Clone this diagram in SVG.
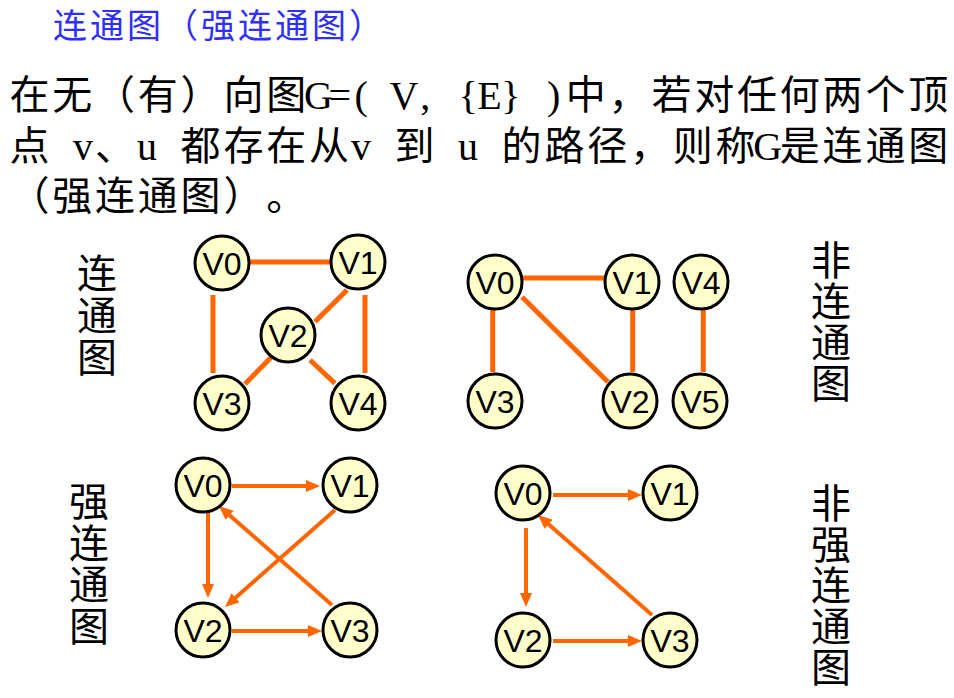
<svg xmlns="http://www.w3.org/2000/svg" width="954" height="698" viewBox="0 0 954 698">
<style>
.title{font-family:"Noto Sans CJK SC",sans-serif;font-size:34px;fill:#2f2fff;letter-spacing:3px}
.body{font-family:"Liberation Serif","Noto Sans CJK SC",sans-serif;font-size:40px;fill:#000}
.lat{font-family:"Liberation Serif","Noto Sans CJK SC",serif;font-size:40px}
.side{font-family:"Noto Sans CJK SC",sans-serif;font-size:40px;fill:#000;writing-mode:vertical-rl;text-orientation:upright}
.node circle{fill:#FFFFCC;stroke:#000;stroke-width:3}
.node text{font-family:"Liberation Sans",Arial,sans-serif;font-size:32px;fill:#000;text-anchor:middle}
.e5{stroke:#FF6600;stroke-width:5;fill:none}
.e4{stroke:#FF6600;stroke-width:4;fill:none;marker-end:url(#arr)}
</style>
<defs>
<marker id="arr" markerUnits="userSpaceOnUse" markerWidth="14" markerHeight="12" refX="6" refY="6" orient="auto">
<path d="M0,0 L14,6 L0,12 z" fill="#FF6600"/>
</marker>
</defs>
<rect width="954" height="698" fill="#fff"/>
<text class="title" x="53" y="38">连通图（强连通图）</text>
<text class="body" y="109"><tspan x="9.4 52.2 95 137.8 180.6 223.4 266.2">在无（有）向图</tspan><tspan class="lat" x="303.9 328.4 354.4 375 389.5 420.3 440 458.5 477.3 501.3 520 547">G=( V, {E} )</tspan><tspan x="565.8 608.6 651.4 694.2 737 779.8 822.6 865.4 908.2">中，若对任何两个顶</tspan></text>
<text class="body" y="160"><tspan x="9.4">点</tspan><tspan class="lat" x="50.8 72.9"> v</tspan><tspan x="95">、</tspan><tspan class="lat" x="137.1 157.8">u </tspan><tspan x="180.6 223.4 266.2 309">都存在从</tspan><tspan class="lat" x="351.1 371.8">v </tspan><tspan x="394.6">到</tspan><tspan class="lat" x="436 458.1 478.8"> u </tspan><tspan x="501.6 544.4 587.2 630 672.8 715.6">的路径，则称</tspan><tspan class="lat" x="753.3">G</tspan><tspan x="779.8 822.6 865.4 908.2">是连通图</tspan></text>
<text class="body" y="210" x="9.4 52.2 95 137.8 180.6 223.4 266.2">（强连通图）。</text>
<text class="side" x="97" y="253" letter-spacing="2">连通图</text>
<text class="side" x="831" y="240" letter-spacing="1">非连通图</text>
<text class="side" x="89" y="481" letter-spacing="1.5">强连通图</text>
<text class="side" x="831" y="483" letter-spacing="1">非强连通图</text>
<g id="connectors">
<line class="e5" x1="249" y1="262" x2="331" y2="262"/>
<line class="e5" x1="213" y1="295" x2="213" y2="373"/>
<line class="e5" x1="365" y1="295" x2="365" y2="373"/>
<line class="e5" x1="347" y1="290" x2="315" y2="321.7"/>
<line class="e5" x1="271.7" y1="356.7" x2="245" y2="384"/>
<line class="e5" x1="310" y1="360" x2="335" y2="383.3"/>
<line class="e5" x1="523" y1="278" x2="605" y2="278"/>
<line class="e5" x1="492.7" y1="310" x2="492.7" y2="372"/>
<line class="e5" x1="522" y1="297" x2="608" y2="382"/>
<line class="e5" x1="632.7" y1="310" x2="632.7" y2="372"/>
<line class="e5" x1="703.3" y1="310" x2="703.3" y2="372"/>
<line class="e4" x1="232" y1="486" x2="312" y2="486"/>
<line class="e4" x1="208" y1="505" x2="208" y2="590"/>
<line class="e4" x1="335" y1="510" x2="231" y2="601.7"/>
<line class="e4" x1="332" y1="605" x2="225" y2="511.3"/>
<line class="e4" x1="232" y1="631" x2="314" y2="631"/>
<line class="e4" x1="553" y1="495" x2="634" y2="495"/>
<line class="e4" x1="526" y1="528" x2="526" y2="599"/>
<line class="e4" x1="652" y1="615" x2="544" y2="520.3"/>
<line class="e4" x1="553" y1="641" x2="634" y2="641"/>
</g>
<g id="g1-v0" class="node"><circle cx="222" cy="263" r="27"/><text x="222" y="275">V0</text></g>
<g id="g1-v1" class="node"><circle cx="358" cy="262" r="27"/><text x="358" y="274">V1</text></g>
<g id="g1-v2" class="node"><circle cx="288" cy="335" r="27"/><text x="288" y="347">V2</text></g>
<g id="g1-v3" class="node"><circle cx="222" cy="403" r="27"/><text x="222" y="415">V3</text></g>
<g id="g1-v4" class="node"><circle cx="358" cy="403" r="27"/><text x="358" y="415">V4</text></g>
<g id="g2-v0" class="node"><circle cx="495" cy="282" r="27"/><text x="495" y="294">V0</text></g>
<g id="g2-v1" class="node"><circle cx="632" cy="282" r="27"/><text x="632" y="294">V1</text></g>
<g id="g2-v4" class="node"><circle cx="701" cy="282" r="27"/><text x="701" y="294">V4</text></g>
<g id="g2-v3" class="node"><circle cx="495" cy="401" r="27"/><text x="495" y="413">V3</text></g>
<g id="g2-v2" class="node"><circle cx="630" cy="401" r="27"/><text x="630" y="413">V2</text></g>
<g id="g2-v5" class="node"><circle cx="700" cy="401" r="27"/><text x="700" y="413">V5</text></g>
<g id="g3-v0" class="node"><circle cx="203" cy="485" r="27"/><text x="203" y="497">V0</text></g>
<g id="g3-v1" class="node"><circle cx="350" cy="485" r="27"/><text x="350" y="497">V1</text></g>
<g id="g3-v2" class="node"><circle cx="203" cy="630" r="27"/><text x="203" y="642">V2</text></g>
<g id="g3-v3" class="node"><circle cx="350" cy="630" r="27"/><text x="350" y="642">V3</text></g>
<g id="g4-v0" class="node"><circle cx="523" cy="493" r="27"/><text x="523" y="505">V0</text></g>
<g id="g4-v1" class="node"><circle cx="670" cy="493" r="27"/><text x="670" y="505">V1</text></g>
<g id="g4-v2" class="node"><circle cx="523" cy="640" r="27"/><text x="523" y="652">V2</text></g>
<g id="g4-v3" class="node"><circle cx="670" cy="640" r="27"/><text x="670" y="652">V3</text></g>
</svg>
